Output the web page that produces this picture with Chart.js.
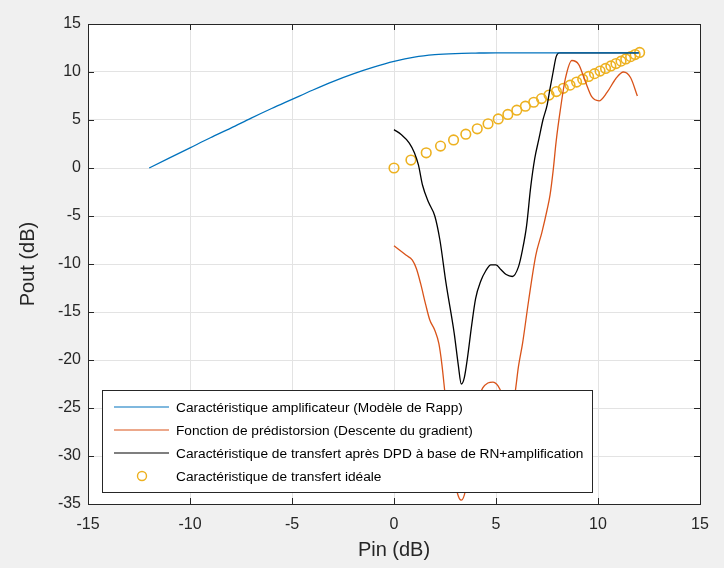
<!DOCTYPE html>
<html>
<head>
<meta charset="utf-8">
<script src="https://cdn.jsdelivr.net/npm/chart.js@4.4.1/dist/chart.umd.min.js"></script>
<style>
  html, body { margin: 0; padding: 0; background: #f0f0f0; }
  #wrap { width: 724px; height: 568px; }
</style>
</head>
<body>
<div id="wrap"><canvas id="c" width="724" height="568"></canvas></div>
<script>
// ----------------- DATA -----------------
// Rapp amplifier characteristic (blue)
const rappX = [-12,-11,-10,-9,-8,-7,-6,-5,-4,-3,-2,-1,0,1,2,3,4,5,6,8,10,12];
const rappY = [0,1.05,2.1,3.15,4.15,5.2,6.2,7.15,8.1,9.0,9.8,10.5,11.1,11.55,11.8,11.92,11.97,12,12,12,12,12];

// predistortion function (orange)
const pdX = [0,0.3,0.6,0.9,1.1,1.3,1.55,1.75,2.0,2.2,2.35,2.5,2.7,2.9,3.1,3.3,3.5,3.7,3.9,4.1,
             4.35,4.6,4.85,5.1,5.3,5.5,5.7,5.85,5.95,6.1,6.3,6.6,6.95,7.25,7.5,7.65,7.8,7.95,8.15,8.4,
             8.72,9.05,9.4,9.7,10.05,10.45,10.87,11.25,11.6,11.93];
const pdY = [-8.1,-8.6,-9.1,-9.6,-10.5,-12,-14.2,-15.8,-16.9,-18.3,-20.5,-23.5,-27.5,-31.2,-33.8,-34.6,-33.6,-30.5,-27,-24.3,
             -22.9,-22.4,-22.3,-22.7,-23.6,-25,-25.4,-24.5,-23.2,-20.7,-18.3,-13.8,-9.1,-6.7,-4.4,-2.8,-0.3,2.8,6.0,9.3,
             11.2,10.8,8.9,7.4,7.0,7.9,9.3,10.0,9.4,7.5];

// transfer after DPD + amplification (black)
const dpdX = [0,0.35,0.75,1.0,1.2,1.4,1.7,2.0,2.25,2.55,2.95,3.15,3.3,3.45,3.6,3.8,4.0,4.25,4.5,4.75,
              5.0,5.25,5.5,5.8,6.1,6.3,6.5,6.7,6.9,7.1,7.3,7.5,7.65,7.8,7.95,8.1,9,10,11,12];
const dpdY = [4.0,3.5,2.6,1.6,0.3,-1.8,-3.6,-5.0,-7.5,-12,-17.2,-20.5,-22.5,-21.8,-19.8,-16.5,-13.6,-11.8,-10.7,-10.1,
              -10.1,-10.6,-11.1,-11.3,-10.3,-8.5,-6.0,-2.0,1.0,3.0,5.0,6.5,8.3,10.0,11.6,12,12,12,12,12];

// ideal transfer (circles, Pout = Pin)
const idealPin = [0,0.83,1.58,2.28,2.92,3.52,4.08,4.61,5.11,5.58,6.02,6.44,6.85,7.23,7.6,7.96,8.3,8.63,8.95,9.25,
                  9.54,9.83,10.1,10.37,10.63,10.88,11.13,11.36,11.6,11.82,12.04];

const xTicks = [-15,-10,-5,0,5,10,15];
const yTicks = [-35,-30,-25,-20,-15,-10,-5,0,5,10,15];

const labels = [
  'Caractéristique amplificateur (Modèle de Rapp)',
  'Fonction de prédistorsion (Descente du gradient)',
  'Caractéristique de transfert après DPD à base de RN+amplification',
  'Caractéristique de transfert idéale'
];

const FONT = '"Liberation Sans", Arial, sans-serif';
const AXIS_COLOR = '#262626';

function pts(xs, ys) { return xs.map((x, i) => ({ x: x, y: ys[i] })); }

// ----------------- PLUGINS -----------------
const bgPlugin = {
  id: 'bg',
  beforeDraw(chart) {
    const { ctx, chartArea: a } = chart;
    ctx.save();
    ctx.fillStyle = '#f0f0f0';
    ctx.fillRect(0, 0, chart.width, chart.height);
    ctx.fillStyle = '#ffffff';
    ctx.fillRect(a.left, a.top, a.right - a.left, a.bottom - a.top);
    ctx.restore();
  }
};

// matlab style box + inward ticks + legend inside the axes
const boxPlugin = {
  id: 'box',
  afterDatasetsDraw(chart) {
    const { ctx, chartArea: a, scales } = chart;
    ctx.save();

    // legend
    const lx = a.left + 14, ly = a.bottom - 114, lw = 490, lh = 102;
    ctx.fillStyle = '#ffffff';
    ctx.fillRect(lx, ly, lw, lh);
    ctx.strokeStyle = AXIS_COLOR;
    ctx.lineWidth = 1;
    ctx.strokeRect(lx + 0.5, ly + 0.5, lw, lh);
    ctx.font = '13.7px ' + FONT;
    ctx.textBaseline = 'middle';
    ctx.textAlign = 'left';
    chart.data.datasets.forEach((ds, i) => {
      const yy = ly + 17 + i * 23;
      ctx.strokeStyle = ds.borderColor;
      if (ds.showLine) {
        ctx.lineWidth = 1.2;
        ctx.beginPath();
        ctx.moveTo(lx + 12, yy);
        ctx.lineTo(lx + 67, yy);
        ctx.stroke();
      } else {
        ctx.lineWidth = 1.4;
        ctx.beginPath();
        ctx.arc(lx + 40, yy, 4.5, 0, Math.PI * 2);
        ctx.stroke();
      }
      ctx.fillStyle = '#000000';
      ctx.fillText(ds.label, lx + 74, yy + 1);
    });

    // inward ticks
    ctx.strokeStyle = AXIS_COLOR;
    ctx.lineWidth = 1;
    const tl = 6;
    ctx.beginPath();
    xTicks.forEach(v => {
      const px = Math.round(scales.x.getPixelForValue(v)) + 0.5;
      ctx.moveTo(px, a.bottom); ctx.lineTo(px, a.bottom - tl);
      ctx.moveTo(px, a.top); ctx.lineTo(px, a.top + tl);
    });
    yTicks.forEach(v => {
      const py = Math.round(scales.y.getPixelForValue(v)) + 0.5;
      ctx.moveTo(a.left, py); ctx.lineTo(a.left + tl, py);
      ctx.moveTo(a.right, py); ctx.lineTo(a.right - tl, py);
    });
    ctx.stroke();

    // box
    ctx.strokeRect(Math.round(a.left) + 0.5, Math.round(a.top) + 0.5,
                   Math.round(a.right - a.left), Math.round(a.bottom - a.top));
    ctx.restore();
  }
};

// ----------------- CHART -----------------
new Chart(document.getElementById('c').getContext('2d'), {
  type: 'scatter',
  data: {
    datasets: [
      { label: labels[0], data: pts(rappX, rappY), showLine: true, borderColor: '#0072BD',
        borderWidth: 1.3, pointRadius: 0, cubicInterpolationMode: 'monotone' },
      { label: labels[1], data: pts(pdX, pdY), showLine: true, borderColor: '#D95319',
        borderWidth: 1.3, pointRadius: 0, cubicInterpolationMode: 'monotone' },
      { label: labels[2], data: pts(dpdX, dpdY), showLine: true, borderColor: '#000000',
        borderWidth: 1.3, pointRadius: 0, cubicInterpolationMode: 'monotone' },
      { label: labels[3], data: pts(idealPin, idealPin), showLine: false, borderColor: '#EDB120',
        backgroundColor: 'rgba(0,0,0,0)', borderWidth: 1.6, pointRadius: 4.8, pointStyle: 'circle' }
    ]
  },
  options: {
    responsive: false,
    animation: false,
    events: [],
    layout: { padding: { top: 24, right: 24, left: 0, bottom: 0 } },
    plugins: { legend: { display: false }, tooltip: { enabled: false } },
    scales: {
      x: {
        type: 'linear', min: -15, max: 15,
        afterBuildTicks: s => { s.ticks = xTicks.map(v => ({ value: v })); },
        afterFit: s => { s.height = 64; },
        grid: { color: '#e3e3e3', drawTicks: false },
        border: { display: false },
        ticks: { padding: 11, color: AXIS_COLOR, font: { family: FONT, size: 16 } },
        title: { display: true, text: 'Pin (dB)', color: AXIS_COLOR, padding: { top: 0, bottom: 6 },
                 font: { family: FONT, size: 20 } }
      },
      y: {
        type: 'linear', min: -35, max: 15,
        afterBuildTicks: s => { s.ticks = yTicks.map(v => ({ value: v })); },
        afterFit: s => { s.width = 88; },
        grid: { color: '#e3e3e3', drawTicks: false },
        border: { display: false },
        ticks: { padding: 7, color: AXIS_COLOR, font: { family: FONT, size: 16 } },
        title: { display: true, text: 'Pout (dB)', color: AXIS_COLOR, padding: { top: 16, bottom: 0 },
                 font: { family: FONT, size: 20 } }
      }
    }
  },
  plugins: [bgPlugin, boxPlugin]
});
</script>
</body>
</html>
